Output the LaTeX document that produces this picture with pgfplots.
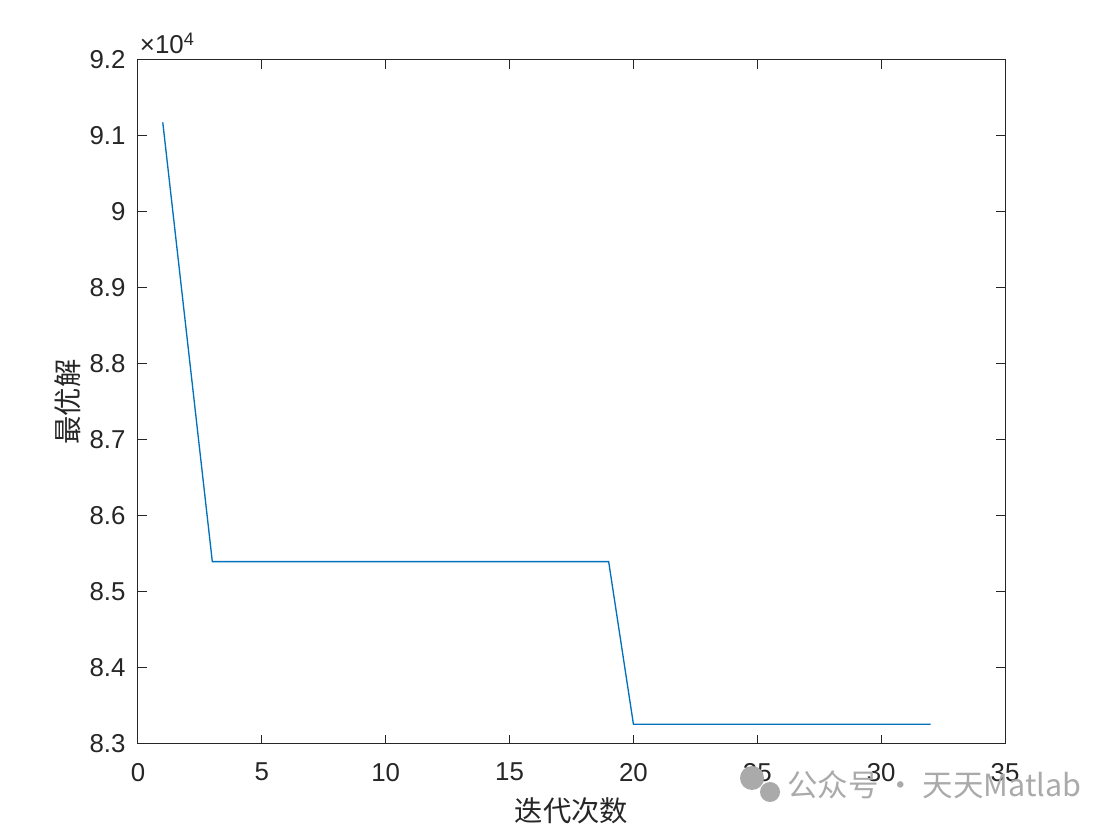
\documentclass[border=0pt]{standalone}
\usepackage{fontspec}
\setmainfont{Liberation Sans}
\newfontfamily\cjk{Noto Sans CJK SC}
\usepackage{pgfplots}
\pgfplotsset{compat=1.18}
\definecolor{mlblue}{RGB}{0,114,189}
\definecolor{mlaxis}{RGB}{38,38,38}
\definecolor{wmgray}{RGB}{170,170,170}

\begin{document}
\begin{tikzpicture}
\fill[white] (-82.8pt,-51pt) rectangle (583.8pt,446.4pt);
\begin{axis}[
  at={(0,0)}, anchor=south west,
  scale only axis,
  width=520.2pt, height=410.4pt,
  xmin=0, xmax=35, ymin=83000, ymax=92000,
  xtick={0,5,...,35},
  ytick={83000,84000,...,92000},
  yticklabels={8.3,8.4,8.5,8.6,8.7,8.8,8.9,9,9.1,9.2},
  scaled y ticks=false,
  /pgf/number format/assume math mode=true,
  tick label style={font=\fontsize{15.5}{18}\selectfont, text=mlaxis},
  xticklabel style={yshift=-8pt},
  yticklabel style={xshift=-4pt},
  axis line style={mlaxis, line width=0.6pt},
  tick style={mlaxis, line width=0.6pt},
  tick align=inside,
  major tick length=5.4pt,
  xlabel={\cjk 迭代次数},
  ylabel={\cjk 最优解},
  label style={font=\fontsize{17}{19}\selectfont, text=mlaxis},
  xlabel style={at={(rel axis cs:0.5,0)}, anchor=center, yshift=-40.2pt},
  ylabel style={at={(rel axis cs:0,0.5)}, anchor=center, yshift=42pt},
  clip=false,
]
\addplot[color=mlblue, line width=0.8pt] coordinates {
  (1,91180) (2,88290) (3,85400) (4,85400) (5,85400) (6,85400) (7,85400)
  (8,85400) (9,85400) (10,85400) (11,85400) (12,85400) (13,85400) (14,85400)
  (15,85400) (16,85400) (17,85400) (18,85400) (19,85400) (20,83260)
  (21,83260) (22,83260) (23,83260) (24,83260) (25,83260) (26,83260)
  (27,83260) (28,83260) (29,83260) (30,83260) (31,83260) (32,83260)
};
\node[anchor=base west, inner sep=0pt, xshift=1pt, yshift=3.6pt, text=mlaxis, font=\fontsize{15.5}{18}\selectfont] at (rel axis cs:0,1) {×10\textsuperscript{4}};
\end{axis}
\fill[wmgray] (368.4pt,-20.4pt) circle (7.2pt);
\fill[wmgray] (379.2pt,-28.8pt) circle (6pt);
\node[anchor=west, text=wmgray, inner sep=0pt, font=\fontsize{18.3}{20}\selectfont] at (389.4pt,-24.6pt) {\cjk 公众号 · 天天Matlab};
\pgfresetboundingbox
\path (-82.8pt,-51pt) rectangle (583.8pt,446.4pt);
\end{tikzpicture}
\end{document}
